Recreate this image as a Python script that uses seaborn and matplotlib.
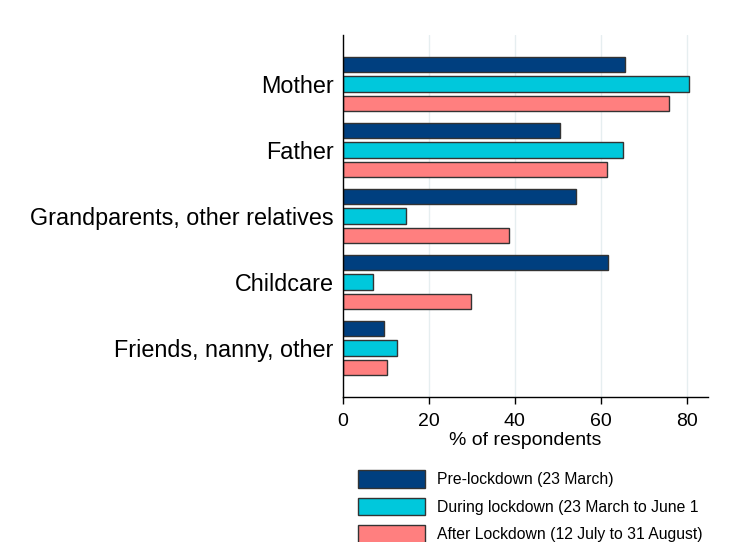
import pandas as pd
import matplotlib.pyplot as plt
import seaborn as sns

categories = ["Mother", "Father", "Grandparents, other relatives", "Childcare", "Friends, nanny, other"]
periods = ["Pre-lockdown (23 March)", "During lockdown (23 March to June 1", "After Lockdown (12 July to 31 August)"]
pre = [65.7, 50.6, 54.2, 61.8, 9.7]
during = [80.5, 65.3, 14.8, 7.0, 12.6]
after = [76.0, 61.4, 38.7, 29.8, 10.4]
colors = ["#003f7f", "#00c8dc", "#ff7f7f"]

rows = []
for period, vals in zip(periods, [pre, during, after]):
    for cat, v in zip(categories, vals):
        rows.append({"category": cat, "period": period, "value": v})
df = pd.DataFrame(rows)

sns.set_style("white")
plt.rcParams['font.family'] = ['Liberation Sans', 'DejaVu Sans']
plt.rcParams['text.color'] = 'black'
plt.rcParams['xtick.color'] = 'black'
plt.rcParams['ytick.color'] = 'black'
plt.rcParams['axes.labelcolor'] = 'black'

fig = plt.figure(figsize=(7.5, 5.42), dpi=100)
ax = fig.add_axes([0.457, 0.268, 0.487, 0.667])
sns.barplot(data=df, y="category", x="value", hue="period", orient="h",
            palette=colors, width=0.89, gap=0.2, edgecolor="#333333", linewidth=1,
            saturation=1, ax=ax, legend=True)

ax.set_xlim(0, 85)
ax.set_ylim(4.74, -0.74)
ax.set_xticks([0, 20, 40, 60, 80])
ax.xaxis.grid(True, color="#e6eef0", linewidth=1)
ax.set_axisbelow(True)
ax.set_xlabel("% of respondents", fontsize=14, labelpad=1)
ax.set_ylabel("")
ax.tick_params(axis="x", labelsize=14, length=5, width=1, color="black", bottom=True, pad=7)
ax.tick_params(axis="y", labelsize=16.8, length=0, pad=6.5)
for s in ["top", "right"]:
    ax.spines[s].set_visible(False)
for s in ["left", "bottom"]:
    ax.spines[s].set_color("black")
    ax.spines[s].set_linewidth(1)

handles, labels = ax.get_legend_handles_labels()
ax.get_legend().remove()
fig.legend(handles, labels, loc="upper left", bbox_to_anchor=(0.477, 0.133),
           frameon=False, fontsize=11.3, handlelength=4.3, handleheight=1.38,
           labelspacing=0.62, handletextpad=0.75, borderaxespad=0, borderpad=0)

fig.savefig("out.png", dpi=100)
